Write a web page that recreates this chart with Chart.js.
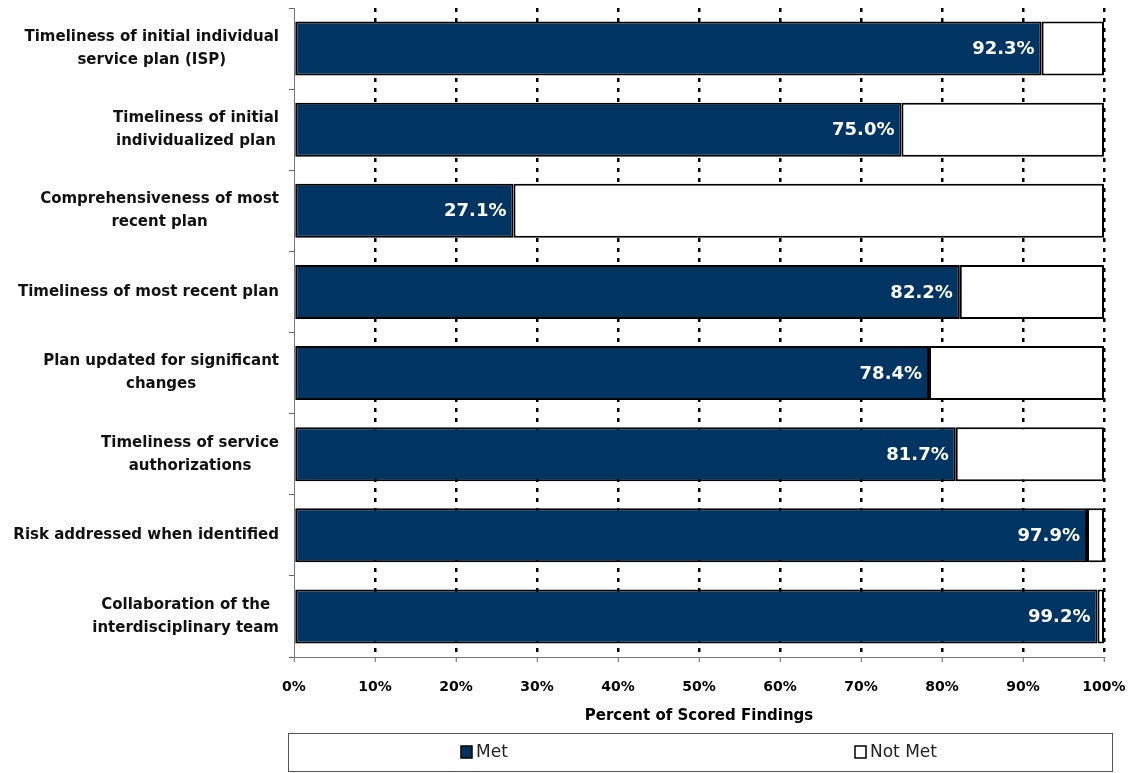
<!DOCTYPE html>
<html>
<head>
<meta charset="utf-8">
<title>Percent of Scored Findings</title>
<script src="https://cdn.jsdelivr.net/npm/chart.js@4.4.1/dist/chart.umd.min.js"></script>
<style>
    html, body { margin: 0; padding: 0; background: #fff; }
    #chart-wrap { position: relative; width: 1135px; height: 773px; }
</style>
</head>
<body>
<div id="chart-wrap"><canvas id="findings-chart"></canvas></div>
<script>
const categories = [
    ['Timeliness of initial individual', 'service plan (ISP)'],
    ['Timeliness of initial', 'individualized plan'],
    ['Comprehensiveness of most', 'recent plan'],
    ['Timeliness of most recent plan'],
    ['Plan updated for significant', 'changes'],
    ['Timeliness of service', 'authorizations'],
    ['Risk addressed when identified'],
    ['Collaboration of the', 'interdisciplinary team']
];
const metValues = [92.3, 75.0, 27.1, 82.2, 78.4, 81.7, 97.9, 99.2];
const notMetValues = [7.7, 25.0, 72.9, 17.8, 21.6, 18.3, 2.1, 0.8];
const seriesNames = ['Met', 'Not Met'];
const xTickValues = [0, 10, 20, 30, 40, 50, 60, 70, 80, 90, 100];

const FONT = "'DejaVu Sans', sans-serif";
const NAVY = '#003462';

// category labels: block right-aligned to the axis, lines centred on each other
const categoryLabels = {
    id: 'categoryLabels',
    afterDraw(chart) {
        const ctx = chart.ctx;
        const yScale = chart.scales.y;
        const right = chart.chartArea.left - 15;
        const lineHeight = 23;
        ctx.save();
        ctx.font = 'bold 15px ' + FONT;
        ctx.fillStyle = '#111';
        ctx.textAlign = 'center';
        ctx.textBaseline = 'middle';
        categories.forEach((lines, i) => {
            const y = yScale.getPixelForValue(i);
            const maxW = Math.max(...lines.map(l => ctx.measureText(l).width));
            const cx = right - maxW / 2;
            const top = y - (lines.length - 1) * lineHeight / 2;
            lines.forEach((l, j) => ctx.fillText(l, cx, top + j * lineHeight));
        });
        ctx.restore();
    }
};

// white value labels at the inner end of the Met bars
const barValues = {
    id: 'barValues',
    afterDatasetsDraw(chart) {
        const ctx = chart.ctx;
        const meta = chart.getDatasetMeta(0);
        ctx.save();
        ctx.font = 'bold 18px ' + FONT;
        ctx.fillStyle = '#fff';
        ctx.textAlign = 'right';
        ctx.textBaseline = 'middle';
        meta.data.forEach((bar, i) => {
            ctx.fillText(metValues[i].toFixed(1) + '%', bar.x - 7, bar.y + 1);
        });
        ctx.restore();
    }
};

// boxed legend under the axis title
const boxedLegend = {
    id: 'boxedLegend',
    afterDraw(chart, args, opts) {
        const ctx = chart.ctx;
        const b = opts.box;
        ctx.save();
        ctx.strokeStyle = '#555';
        ctx.lineWidth = 1;
        ctx.strokeRect(b.left + 0.5, b.top + 0.5, b.right - b.left, b.bottom - b.top);
        ctx.font = '17px ' + FONT;
        ctx.textBaseline = 'middle';
        ctx.textAlign = 'left';
        const midY = (b.top + b.bottom) / 2;
        chart.data.datasets.forEach((ds, i) => {
            const x = opts.itemX[i];
            ctx.fillStyle = ds.backgroundColor;
            ctx.fillRect(x, midY - 6, 11, 12);
            ctx.strokeStyle = '#000';
            ctx.lineWidth = 1.5;
            ctx.strokeRect(x, midY - 6, 11, 12);
            ctx.fillStyle = '#222';
            ctx.fillText(ds.label, x + 15, midY + 1);
        });
        ctx.restore();
    }
};

const ctx = document.getElementById('findings-chart').getContext('2d');
new Chart(ctx, {
    type: 'bar',
    data: {
        labels: categories,
        datasets: [{
            label: seriesNames[0],
            data: metValues,
            backgroundColor: NAVY,
            borderColor: '#000',
            borderWidth: 2,
            borderSkipped: false
        }, {
            label: seriesNames[1],
            data: notMetValues,
            backgroundColor: '#fff',
            borderColor: '#000',
            borderWidth: 2,
            borderSkipped: false
        }]
    },
    options: {
        indexAxis: 'y',
        responsive: true,
        maintainAspectRatio: false,
        animation: false,
        layout: {
            padding: { top: 8, left: 0, right: 31, bottom: 46 }
        },
        datasets: {
            bar: { categoryPercentage: 1, barPercentage: 0.665 }
        },
        scales: {
            x: {
                stacked: true,
                min: 0,
                max: 100,
                afterBuildTicks: scale => { scale.ticks = xTickValues.map(v => ({ value: v })); },
                afterFit: scale => {
                    scale.height = 70;
                    scale.paddingLeft = 0;
                    scale.paddingRight = 0;
                },
                ticks: {
                    color: '#000',
                    font: { family: FONT, size: 14, weight: 'bold' },
                    padding: 17,
                    maxRotation: 0,
                    callback: v => v + '%'
                },
                grid: {
                    color: c => (c.tick && c.tick.value === 0) ? 'rgba(0,0,0,0)' : '#000',
                    lineWidth: 2.5,
                    tickColor: '#666',
                    tickWidth: 1,
                    tickLength: 5,
                    tickBorderDash: []
                },
                border: { display: true, color: '#777', width: 1, dash: [4, 6] },
                title: {
                    display: true,
                    text: 'Percent of Scored Findings',
                    color: '#000',
                    font: { family: FONT, size: 15, weight: 'bold' },
                    padding: { top: 0, bottom: 2 }
                }
            },
            y: {
                stacked: true,
                afterFit: scale => {
                    scale.width = 294;
                    scale.paddingTop = 0;
                    scale.paddingBottom = 0;
                },
                ticks: { display: false },
                grid: {
                    drawOnChartArea: false,
                    drawTicks: true,
                    tickLength: 5,
                    tickColor: '#666',
                    tickWidth: 1,
                    offset: true
                },
                border: { display: true, color: '#777', width: 1 }
            }
        },
        plugins: {
            legend: { display: false },
            tooltip: { enabled: false },
            boxedLegend: {
                box: { left: 288, right: 1112, top: 733, bottom: 771 },
                itemX: [461, 855]
            }
        }
    },
    plugins: [categoryLabels, barValues, boxedLegend]
});
</script>
</body>
</html>
